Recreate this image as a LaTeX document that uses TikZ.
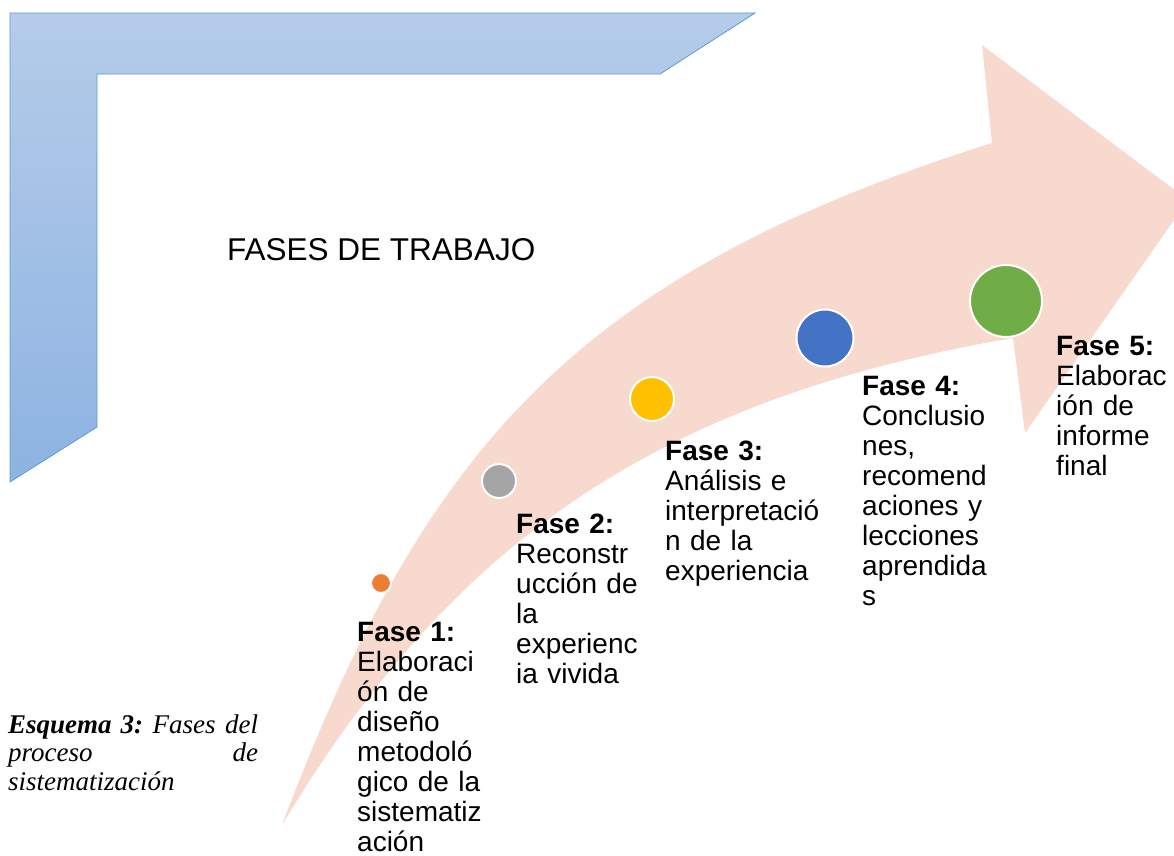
\documentclass[tikz,border=0pt]{standalone}
\usepackage{fontspec}
\setmainfont{Liberation Serif}
\setsansfont{Liberation Sans}
\usetikzlibrary{shapes}
\tikzset{every picture/.style={/utils/exec={\sffamily}}}
\definecolor{band-salmon}{HTML}{F8D9CE}
\definecolor{frame-top}{HTML}{B5CCE9}
\definecolor{frame-bottom}{HTML}{8DB3E2}
\definecolor{frame-line}{HTML}{5B9BD5}
\definecolor{dot-orange}{HTML}{ED7D31}
\definecolor{dot-gray}{HTML}{A5A5A5}
\definecolor{dot-yellow}{HTML}{FFC000}
\definecolor{dot-blue}{HTML}{4472C4}
\definecolor{dot-green}{HTML}{70AD47}

\begin{document}
\begin{tikzpicture}[x=1pt, y=-1pt,
    dot/.style={circle, draw=white, line width=2pt, inner sep=0pt},
    phase/.style={anchor=base west, inner sep=0pt, text width=175pt, align=left,
        font=\fontsize{28}{30}\selectfont}]
    \useasboundingbox (0,0) rectangle (1174,855);
    \clip (0,0) rectangle (1174,855);

    % corner frame
    \shade[top color=frame-top, bottom color=frame-bottom, draw=frame-line, line width=0.8pt]
        (10,13) -- (755,13) -- (660,74) -- (97,74) -- (97,427) -- (10,482) -- cycle;

    % curved arrow
    \coordinate (tail) at (282,825);
    \fill[band-salmon] (tail) .. controls (423.6,451) and (572.2,275.4) .. (992,143)
        -- (982,45) -- (1188,200) -- (1025,433) -- (1013,338)
        .. controls (648,400) and (446.5,551) .. (tail) -- cycle;

    \node[anchor=base west, inner sep=0pt, font=\fontsize{31.5}{34}\selectfont] (title) at (227,260) {FASES DE TRABAJO};

    \node[dot, fill=dot-orange, minimum size=20pt] (c1) at (381,583) {};
    \node[dot, fill=dot-gray, minimum size=34pt] (c2) at (499,481) {};
    \node[dot, fill=dot-yellow, minimum size=44pt] (c3) at (652,399) {};
    \node[dot, fill=dot-blue, minimum size=57pt] (c4) at (825,338) {};
    \node[dot, fill=dot-green, minimum size=72pt] (c5) at (1006,301) {};

    \node[phase] (fase1) at (357,641) {\textbf{Fase 1:}\\Elaboraci\\ón de\\diseño\\metodoló\\gico de la\\sistematiz\\ación};
    \node[phase] (fase2) at (516,533) {\textbf{Fase 2:}\\Reconstr\\ucción de\\la\\experienc\\ia vivida};
    \node[phase] (fase3) at (665,460) {\textbf{Fase 3:}\\Análisis e\\interpretació\\n de la\\experiencia};
    \node[phase] (fase4) at (862,395) {\textbf{Fase 4:}\\Conclusio\\nes,\\recomend\\aciones y\\lecciones\\aprendida\\s};
    \node[phase] (fase5) at (1056,355) {\textbf{Fase 5:}\\Elaborac\\ión de\\informe\\final};

    \node[anchor=base west, inner sep=0pt, text width=250pt, align=left,
        font=\rmfamily\itshape\frenchspacing\fontsize{27}{28.5}\selectfont] (caption) at (8,733)
        {\textbf{Esquema 3:}\hfill Fases\hfill del\\proceso\hfill de\\sistematización};
\end{tikzpicture}
\end{document}
